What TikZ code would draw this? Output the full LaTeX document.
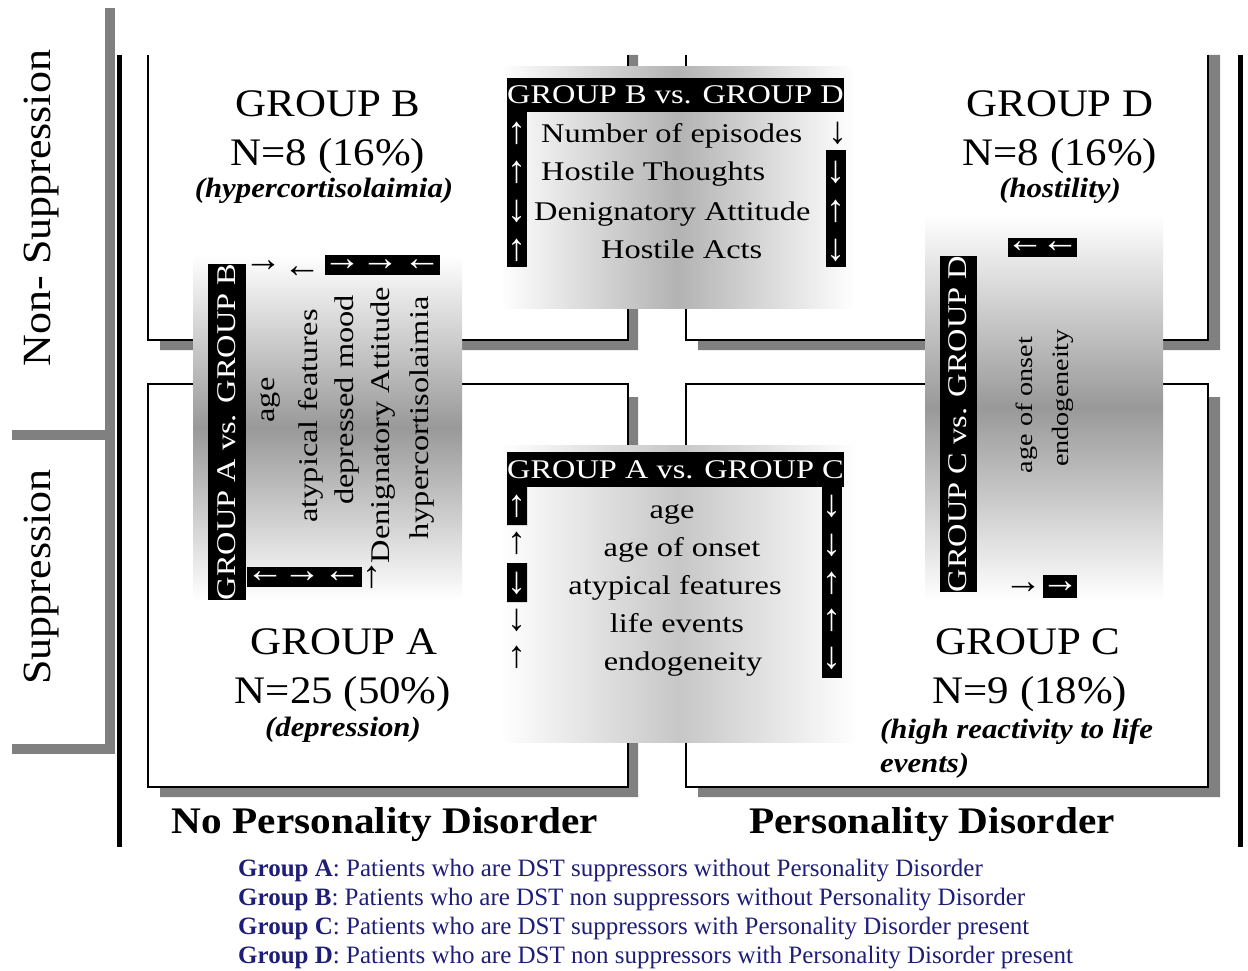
\documentclass[tikz,border=0pt]{standalone}
\usepackage{fontspec}
\setmainfont{Liberation Serif}
\newfontfamily\bigfont{Liberation Serif}[FakeStretch=1.1]
\newfontfamily\panelfont{Liberation Serif}[FakeStretch=1.2]
\definecolor{shadowgray}{RGB}{128,128,128}
\definecolor{legendblue}{RGB}{30,30,120}

\begin{document}
\begin{tikzpicture}[x=1pt, y=-1pt,
  grouplabel/.style={font=\bigfont\fontsize{39}{42}\selectfont, anchor=base, inner sep=0pt},
  note/.style={font=\bigfont\bfseries\itshape\fontsize{28}{30}\selectfont, anchor=base, inner sep=0pt},
  axislabel/.style={font=\bigfont\bfseries\fontsize{37.5}{40}\selectfont, anchor=base, inner sep=0pt},
  sidelabel/.style={font=\bigfont\fontsize{40}{42}\selectfont, rotate=90, inner sep=0pt},
  item/.style={font=\panelfont\fontsize{27}{30}\selectfont, inner sep=0pt},
  smallitem/.style={font=\panelfont\fontsize{23.5}{26}\selectfont, rotate=90, inner sep=0pt},
  header/.style={font=\panelfont\fontsize{27}{30}\selectfont, fill=black, text=white, inner sep=0pt},
  arr/.style={font=\fontsize{38}{38}\selectfont, inner sep=0pt},
  warr/.style={arr, text=white},
  quad/.style={line width=1.8pt},
  shadowbar/.style={fill=shadowgray},
  panel/.style={left color=white, right color=white, middle color=black!30},
  vpanel/.style={top color=white, bottom color=white, middle color=black!40},
  legend/.style={font=\fontsize{25}{27}\selectfont, text=legendblue, anchor=base west, inner sep=0pt}
]
\useasboundingbox (0,0) rectangle (1248,971);

\fill[shadowbar] (628,55) rectangle (638,350) (160,340) rectangle (638,350);
\fill[shadowbar] (1208,55) rectangle (1220,350) (698,340) rectangle (1220,350);
\fill[shadowbar] (628,397) rectangle (638,797) (160,787) rectangle (638,797);
\fill[shadowbar] (1208,397) rectangle (1220,797) (698,787) rectangle (1220,797);
\draw[quad] (148,55) -- (148,340) -- (628,340) -- (628,55);
\draw[quad] (686,55) -- (686,340) -- (1208,340) -- (1208,55);
\draw[quad, fill=white] (148,384) rectangle (628,787);
\draw[quad, fill=white] (686,384) rectangle (1208,787);

\draw[shadowgray, line width=10pt] (12,435) -- (110,435) (110,8) -- (110,749) -- (12,749);
\draw[line width=4.5pt] (119.5,55) -- (119.5,847);
\draw[line width=5pt] (1240,55) -- (1240,847);

\node[sidelabel] (nonsup) at (42,208) {Non- Suppression};
\node[sidelabel] (sup) at (42,577) {Suppression};
\node[axislabel] (nopd) at (385,833) {No Personality Disorder};
\node[axislabel] (pd) at (932,833) {Personality Disorder};

\node[grouplabel] (grpB) at (328,117) {GROUP B};
\node[grouplabel] (nB) at (328,165) {N=8 (16\%)};
\node[note] (noteB) at (324,197) {(hypercortisolaimia)};
\node[grouplabel] (grpD) at (1060,117) {GROUP D};
\node[grouplabel] (nD) at (1060,165) {N=8 (16\%)};
\node[note] (noteD) at (1060,197) {(hostility)};
\node[grouplabel] (grpA) at (344,654) {GROUP A};
\node[grouplabel] (nA) at (343,703) {N=25 (50\%)};
\node[note] (noteA) at (343,736) {(depression)};
\node[grouplabel] (grpC) at (1028,654) {GROUP C};
\node[grouplabel] (nC) at (1030,703) {N=9 (18\%)};
\node[note, anchor=base west] (noteC) at (880,738) {(high reactivity to life};
\node[note, anchor=base west] (noteCb) at (880,772) {events)};

\shade[panel] (500,67) rectangle (855,308);
\node[header, minimum width=333, minimum height=34, anchor=north west] (bdhead) at (507,78) {GROUP B vs. GROUP D};
\fill (507,112) rectangle (527,267);
\fill (826,150) rectangle (846,267);
\node[warr] (bdl1) at (517,133) {↑};
\node[warr] (bdl2) at (517,172) {↑};
\node[warr] (bdl3) at (517,211) {↓};
\node[warr] (bdl4) at (517,250) {↑};
\node[arr] (bdr1) at (838,133) {↓};
\node[warr] (bdr2) at (836,172) {↓};
\node[warr] (bdr3) at (836,211) {↑};
\node[warr] (bdr4) at (836,250) {↓};
\node[item, anchor=base west] (bd1) at (541,143) {Number of episodes};
\node[item, anchor=base west] (bd2) at (541,181) {Hostile Thoughts};
\node[item, anchor=base west] (bd3) at (534,220) {Denignatory Attitude};
\node[item, anchor=base west] (bd4) at (601,258) {Hostile Acts};

\shade[panel, middle color=black!22] (500,445) rectangle (858,742);
\node[header, minimum width=335, minimum height=35, anchor=north west] (achead) at (507,452) {GROUP A vs. GROUP C};
\fill (507,487) rectangle (527,525) (507,563) rectangle (527,602);
\fill (822,487) rectangle (842,678);
\node[warr] (acl1) at (517,506) {↑};
\node[arr] (acl2) at (517,543) {↑};
\node[warr] (acl3) at (517,583) {↓};
\node[arr] (acl4) at (517,620) {↓};
\node[arr] (acl5) at (517,657) {↑};
\node[warr] (acr1) at (832,506) {↓};
\node[warr] (acr2) at (832,545) {↓};
\node[warr] (acr3) at (832,583) {↑};
\node[warr] (acr4) at (832,620) {↑};
\node[warr] (acr5) at (832,658) {↓};
\node[item, anchor=base] (ac1) at (672,518) {age};
\node[item, anchor=base] (ac2) at (682,556) {age of onset};
\node[item, anchor=base] (ac3) at (675,594) {atypical features};
\node[item, anchor=base] (ac4) at (677,632) {life events};
\node[item, anchor=base] (ac5) at (683,670) {endogeneity};

\shade[vpanel] (193,255) rectangle (462,600);
\node[header, rotate=90, minimum width=335, minimum height=38] (abhead) at (227,432) {GROUP A vs. GROUP B};
\fill (325,255) rectangle (440,275);
\fill (247,567) rectangle (362,587);
\node[arr] (abt1) at (263,266) {→};
\node[arr] (abt2) at (302,272) {←};
\node[warr] (abt3) at (342,265) {→};
\node[warr] (abt4) at (380,265) {→};
\node[warr] (abt5) at (422,265) {←};
\node[warr] (abb1) at (265,577) {←};
\node[warr] (abb2) at (302,577) {→};
\node[warr] (abb3) at (342,577) {←};
\node[arr] (abb4) at (372,577) {↑};
\node[item, rotate=90] (ab1) at (270,400) {age};
\node[item, rotate=90] (ab2) at (311,416) {atypical features};
\node[item, rotate=90] (ab3) at (347,400) {depressed mood};
\node[item, rotate=90] (ab4) at (383,425) {Denignatory Attitude};
\node[item, rotate=90] (ab5) at (422,418) {hypercortisolaimia};

\shade[vpanel] (925,215) rectangle (1163,600);
\node[header, rotate=90, minimum width=336, minimum height=37] (cdhead) at (958,424) {GROUP C vs. GROUP D};
\fill (1008,238) rectangle (1077,257);
\fill (1043,575) rectangle (1077,598);
\node[warr] (cdt1) at (1025,247) {←};
\node[warr] (cdt2) at (1060,247) {←};
\node[arr] (cdb1) at (1023,588) {→};
\node[warr] (cdb2) at (1060,587) {→};
\node[smallitem] (cd1) at (1027,405) {age of onset};
\node[smallitem] (cd2) at (1063,398) {endogeneity};

\node[legend] (legA) at (238,876) {\textbf{Group A}: Patients who are DST suppressors without Personality Disorder};
\node[legend] (legB) at (238,905) {\textbf{Group B}: Patients who are DST non suppressors without Personality Disorder};
\node[legend] (legC) at (238,934) {\textbf{Group C}: Patients who are DST suppressors with Personality Disorder present};
\node[legend] (legD) at (238,963) {\textbf{Group D}: Patients who are DST non suppressors with Personality Disorder present};
\end{tikzpicture}
\end{document}
